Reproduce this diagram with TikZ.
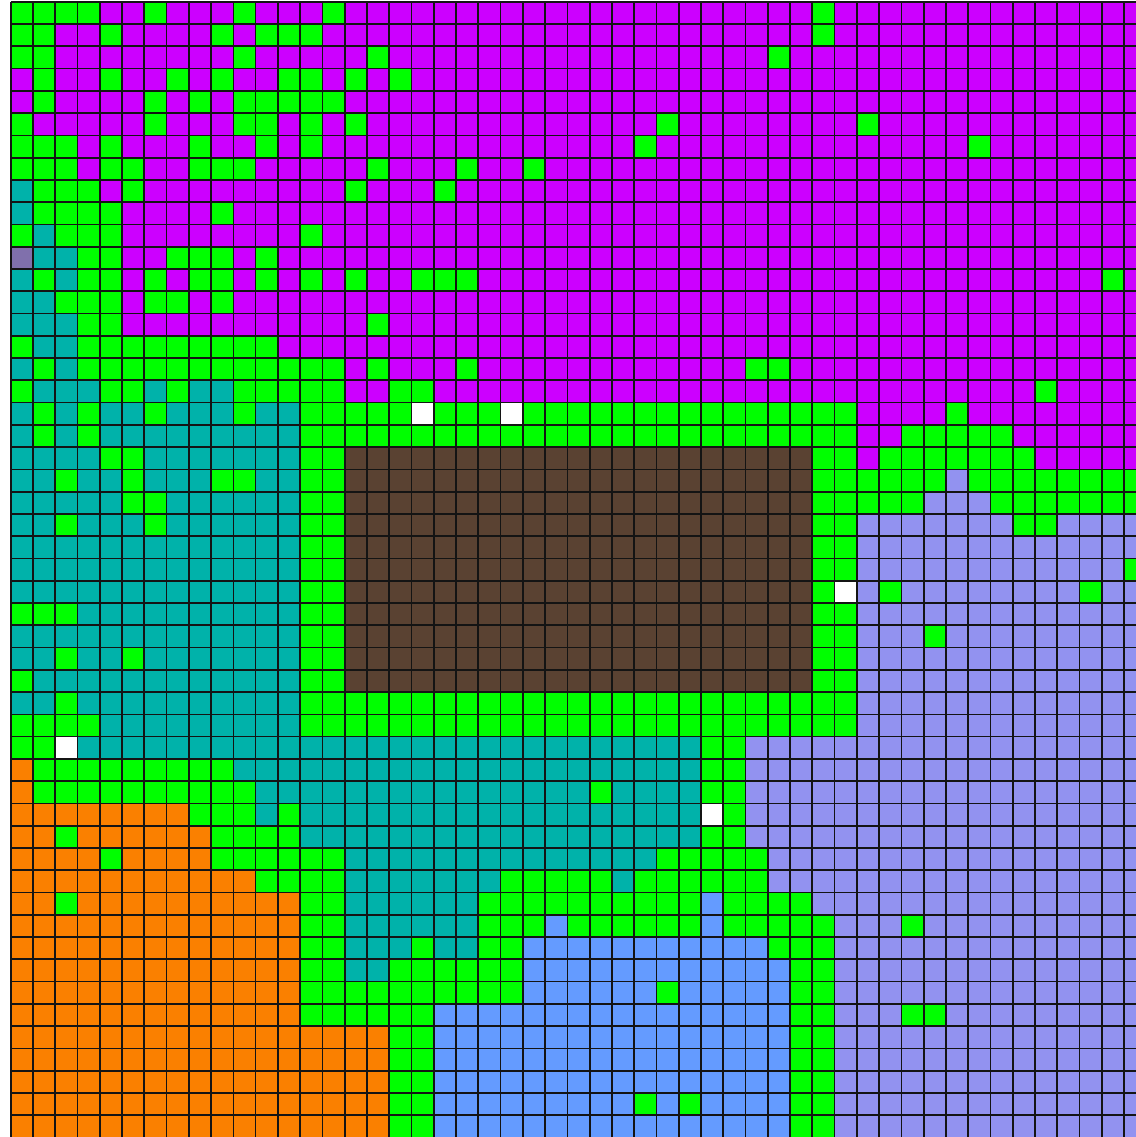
\documentclass[tikz,border=0pt]{standalone}
\usepackage{tikz}

\definecolor{colG}{RGB}{0,255,0}
\definecolor{colM}{RGB}{204,0,255}
\definecolor{colT}{RGB}{0,178,170}
\definecolor{colB}{RGB}{90,66,50}
\definecolor{colO}{RGB}{250,128,0}
\definecolor{colL}{RGB}{146,146,240}
\definecolor{colU}{RGB}{100,155,255}
\definecolor{colW}{RGB}{255,255,255}
\definecolor{colP}{RGB}{128,112,172}

\tikzset{gridline/.style={line width=2.2pt,black!92}}

% one row of cells, one letter per cell
\makeatletter
\newcommand\fillrow[2]{%
  \def\colno{0}%
  \@tfor\cellch:=#2\do{%
    \edef\cellcol{col\cellch}%
    \fill[fill=\cellcol] (\colno,-#1) rectangle ++(1,-1);
    \pgfmathtruncatemacro\colno{\colno+1}%
  }%
}
\makeatother

\begin{document}
\begin{tikzpicture}
    \fill[white] (-0.48,0.08) rectangle (50.53,-50.98);
    \useasboundingbox (-0.48,0.08) rectangle (50.53,-50.98);
    \fillrow{0}{GGGGM MGMMM GMMMG MMMMM MMMMM MMMMM MMMMM MGMMM MMMMM MMMMM M}
    \fillrow{1}{GGMMG MMMMG MGGGM MMMMM MMMMM MMMMM MMMMM MGMMM MMMMM MMMMM M}
    \fillrow{2}{GGMMM MMMMM GMMMM MGMMM MMMMM MMMMM MMMMG MMMMM MMMMM MMMMM M}
    \fillrow{3}{MGMMG MMGMG MMGGM GMGMM MMMMM MMMMM MMMMM MMMMM MMMMM MMMMM M}
    \fillrow{4}{MGMMM MGMGM GGGGG MMMMM MMMMM MMMMM MMMMM MMMMM MMMMM MMMMM M}
    \fillrow{5}{GMMMM MGMMM GGMGM GMMMM MMMMM MMMMG MMMMM MMMGM MMMMM MMMMM M}
    \fillrow{6}{GGGMG MMMGM MGMGM MMMMM MMMMM MMMGM MMMMM MMMMM MMMGM MMMMM M}
    \fillrow{7}{GGGMG GMMGG GMMMM MGMMM GMMGM MMMMM MMMMM MMMMM MMMMM MMMMM M}
    \fillrow{8}{TGGGM GMMMM MMMMM GMMMG MMMMM MMMMM MMMMM MMMMM MMMMM MMMMM M}
    \fillrow{9}{TGGGG MMMMG MMMMM MMMMM MMMMM MMMMM MMMMM MMMMM MMMMM MMMMM M}
    \fillrow{10}{GTGGG MMMMM MMMGM MMMMM MMMMM MMMMM MMMMM MMMMM MMMMM MMMMM M}
    \fillrow{11}{PTTGG MMGGG MGMMM MMMMM MMMMM MMMMM MMMMM MMMMM MMMMM MMMMM M}
    \fillrow{12}{TGTGG MGMGG MGMGM GMMGG GMMMM MMMMM MMMMM MMMMM MMMMM MMMMG M}
    \fillrow{13}{TTGGG MGGMG MMMMM MMMMM MMMMM MMMMM MMMMM MMMMM MMMMM MMMMM M}
    \fillrow{14}{TTTGG MMMMM MMMMM MGMMM MMMMM MMMMM MMMMM MMMMM MMMMM MMMMM M}
    \fillrow{15}{GTTGG GGGGG GGMMM MMMMM MMMMM MMMMM MMMMM MMMMM MMMMM MMMMM M}
    \fillrow{16}{TGTGG GGGGG GGGGG MGMMM GMMMM MMMMM MMMGG MMMMM MMMMM MMMMM M}
    \fillrow{17}{GTTTG GTGTT GGGGG MMGGM MMMMM MMMMM MMMMM MMMMM MMMMM MGMMM M}
    \fillrow{18}{TGTGT TGTTT GTTGG GGGWG GGWGG GGGGG GGGGG GGGMM MMGMM MMMMM M}
    \fillrow{19}{TGTGT TTTTT TTTGG GGGGG GGGGG GGGGG GGGGG GGGMM GGGGG MMMMM M}
    \fillrow{20}{TTTTG GTTTT TTTGG BBBBB BBBBB BBBBB BBBBB BGGMG GGGGG GMMMM M}
    \fillrow{21}{TTGTT GTTTG GTTGG BBBBB BBBBB BBBBB BBBBB BGGGG GGLGG GGGGG G}
    \fillrow{22}{TTTTT GGTTT TTTGG BBBBB BBBBB BBBBB BBBBB BGGGG GLLLG GGGGG G}
    \fillrow{23}{TTGTT TGTTT TTTGG BBBBB BBBBB BBBBB BBBBB BGGLL LLLLL GGLLL L}
    \fillrow{24}{TTTTT TTTTT TTTGG BBBBB BBBBB BBBBB BBBBB BGGLL LLLLL LLLLL L}
    \fillrow{25}{TTTTT TTTTT TTTGG BBBBB BBBBB BBBBB BBBBB BGGLL LLLLL LLLLL G}
    \fillrow{26}{TTTTT TTTTT TTTGG BBBBB BBBBB BBBBB BBBBB BGWLG LLLLL LLLGL L}
    \fillrow{27}{GGGTT TTTTT TTTGG BBBBB BBBBB BBBBB BBBBB BGGLL LLLLL LLLLL L}
    \fillrow{28}{TTTTT TTTTT TTTGG BBBBB BBBBB BBBBB BBBBB BGGLL LGLLL LLLLL L}
    \fillrow{29}{TTGTT GTTTT TTTGG BBBBB BBBBB BBBBB BBBBB BGGLL LLLLL LLLLL L}
    \fillrow{30}{GTTTT TTTTT TTTGG BBBBB BBBBB BBBBB BBBBB BGGLL LLLLL LLLLL L}
    \fillrow{31}{TTGTT TTTTT TTTGG GGGGG GGGGG GGGGG GGGGG GGGLL LLLLL LLLLL L}
    \fillrow{32}{GGGGT TTTTT TTTGG GGGGG GGGGG GGGGG GGGGG GGGLL LLLLL LLLLL L}
    \fillrow{33}{GGWTT TTTTT TTTTT TTTTT TTTTT TTTTT TGGLL LLLLL LLLLL LLLLL L}
    \fillrow{34}{OGGGG GGGGG TTTTT TTTTT TTTTT TTTTT TGGLL LLLLL LLLLL LLLLL L}
    \fillrow{35}{OGGGG GGGGG GTTTT TTTTT TTTTT TGTTT TGGLL LLLLL LLLLL LLLLL L}
    \fillrow{36}{OOOOO OOOGG GTGTT TTTTT TTTTT TTTTT TWGLL LLLLL LLLLL LLLLL L}
    \fillrow{37}{OOGOO OOOOG GGGTT TTTTT TTTTT TTTTT TGGLL LLLLL LLLLL LLLLL L}
    \fillrow{38}{OOOOG OOOOG GGGGG TTTTT TTTTT TTTTG GGGGL LLLLL LLLLL LLLLL L}
    \fillrow{39}{OOOOO OOOOO OGGGG TTTTT TTGGG GGTGG GGGGL LLLLL LLLLL LLLLL L}
    \fillrow{40}{OOGOO OOOOO OOOGG TTTTT TGGGG GGGGG GUGGG GLLLL LLLLL LLLLL L}
    \fillrow{41}{OOOOO OOOOO OOOGG TTTTT TGGGU GGGGG GUGGG GGLLL GLLLL LLLLL L}
    \fillrow{42}{OOOOO OOOOO OOOGG TTTGT TGGUU UUUUU UUUUG GGLLL LLLLL LLLLL L}
    \fillrow{43}{OOOOO OOOOO OOOGG TTGGG GGGUU UUUUU UUUUU GGLLL LLLLL LLLLL L}
    \fillrow{44}{OOOOO OOOOO OOOGG GGGGG GGGUU UUUUG UUUUU GGLLL LLLLL LLLLL L}
    \fillrow{45}{OOOOO OOOOO OOOGG GGGGU UUUUU UUUUU UUUUU GGLLL GGLLL LLLLL L}
    \fillrow{46}{OOOOO OOOOO OOOOO OOGGU UUUUU UUUUU UUUUU GGLLL LLLLL LLLLL L}
    \fillrow{47}{OOOOO OOOOO OOOOO OOGGU UUUUU UUUUU UUUUU GGLLL LLLLL LLLLL L}
    \fillrow{48}{OOOOO OOOOO OOOOO OOGGU UUUUU UUUUU UUUUU GGLLL LLLLL LLLLL L}
    \fillrow{49}{OOOOO OOOOO OOOOO OOGGU UUUUU UUUGU GUUUU GGLLL LLLLL LLLLL L}
    \fillrow{50}{OOOOO OOOOO OOOOO OOGGU UUUUU UUUUU UUUUU GGLLL LLLLL LLLLL L}
    \draw[gridline] (0,0) grid (51,-51);
\end{tikzpicture}
\end{document}
